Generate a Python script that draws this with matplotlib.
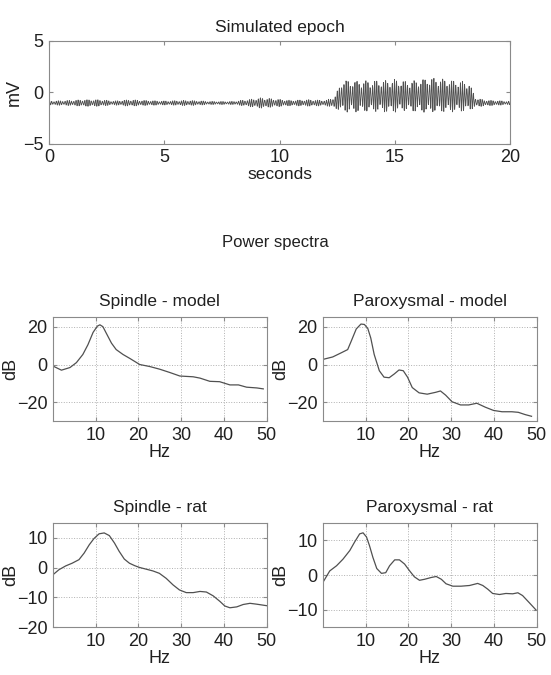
import numpy as np
import matplotlib
matplotlib.use('Agg')
import matplotlib.pyplot as plt

plt.rcParams['font.family'] = ['Liberation Sans', 'DejaVu Sans']

# --- simulated epoch: envelope (seconds, mV) ---
env_t = [0, 1.0, 1.5, 2.2, 2.8, 3.5, 4.0, 5.0, 6.0, 7.0, 8.0, 8.8, 9.2, 9.8, 10.5, 11.3, 12.0, 12.4, 12.7, 14.0, 15.0, 15.5, 16.5, 17.5, 18.2, 18.5, 18.9, 20.0]
env_amp = [0.15, 0.2, 0.25, 0.25, 0.15, 0.25, 0.2, 0.15, 0.2, 0.12, 0.12, 0.3, 0.4, 0.3, 0.2, 0.25, 0.2, 0.45, 1.2, 1.15, 1.25, 1.1, 1.3, 1.2, 1.1, 0.35, 0.22, 0.13]
env_mid = [-1.05, -1.05, -1.05, -1.05, -1.05, -1.05, -1.05, -1.05, -1.05, -1.05, -1.05, -1.05, -1.05, -1.05, -1.05, -1.05, -1.05, -1.0, -0.4, -0.4, -0.35, -0.4, -0.3, -0.35, -0.45, -1.0, -1.05, -1.05]
carrier_hz = [10.5, 12.9]
carrier_w = [1.0, 0.3]
fs = 100

# --- power spectra (Hz, dB) ---
sm_f = [0, 2, 4, 5.5, 7, 8.2, 9.4, 10.4, 11, 11.7, 12.5, 13.7, 14.8, 16.4, 18, 20.3, 22.7, 25, 27.3, 29.7, 32.8, 34.4, 36.7, 39, 41.4, 43.4, 45.3, 47.7, 49.2]
sm_db = [-0.8, -3, -1.6, 1, 5.3, 10.5, 17, 20.3, 21, 20, 16.5, 11.3, 7.9, 5.3, 3.2, 0, -1.1, -2.5, -4.2, -6.1, -6.5, -7.2, -8.9, -9.1, -10.8, -10.8, -12, -12.4, -12.9]

pm_f = [0.2, 2.3, 4.3, 5.8, 6.6, 7.8, 8.9, 9.7, 10.5, 11.2, 12, 13.2, 14.3, 15.5, 16.7, 17.8, 18.8, 19.8, 20.9, 22.5, 24.4, 26.4, 27.5, 28.7, 30.2, 32.2, 34.1, 36, 38, 39.9, 41.9, 44.2, 45.7, 47.3, 48.8]
pm_db = [2.8, 4, 6.2, 7.9, 12.2, 18.8, 21.4, 21.2, 19.1, 14, 5.3, -3.3, -6.7, -7, -5, -2.9, -3.3, -6.7, -12.2, -15, -15.7, -14.7, -14, -16.2, -19.7, -21.4, -21.4, -20.5, -22.6, -24.3, -25, -25, -25.3, -26.5, -27.4]

sr_f = [0, 1.4, 3, 4.5, 6.1, 7.3, 8.5, 9.6, 10.8, 12, 13.2, 14.4, 15.5, 16.7, 17.9, 19.1, 20.2, 21.8, 23.4, 24.9, 26.5, 28.1, 29.6, 31.2, 32.8, 34.4, 35.9, 37.5, 39.1, 40.2, 41.4, 43, 44.5, 46.1, 47.7, 50]
sr_db = [-2.4, -0.7, 0.6, 1.5, 2.7, 4.9, 7.7, 9.8, 11.4, 11.7, 10.8, 8.3, 5.5, 2.9, 1.5, 0.7, 0.1, -0.5, -1.1, -1.9, -3.6, -5.8, -7.5, -8.4, -8.4, -8, -8.2, -9.5, -11.4, -12.9, -13.5, -13.2, -12.4, -12, -12.3, -12.8]

pr_f = [0.2, 1.6, 3.2, 4.7, 6.3, 7.4, 8.6, 9.4, 10.2, 10.9, 11.7, 12.6, 13.7, 14.7, 15.6, 16.8, 17.9, 19.1, 20.3, 21.4, 22.6, 23.8, 25.3, 26.5, 27.7, 28.8, 30.4, 32.3, 34.3, 36.2, 37.4, 38.6, 39.7, 41.3, 42.8, 44.4, 45.6, 46.7, 48.3, 49.8]
pr_db = [-1.7, 1.2, 2.7, 4.6, 7.1, 9.5, 11.9, 12.2, 11, 8.5, 5.1, 1.9, 0.5, 0.7, 2.7, 4.4, 4.4, 3.2, 1.2, -0.5, -1.5, -1.2, -0.7, -0.4, -1.2, -2.5, -3.2, -3.2, -3, -2.4, -3, -4.1, -5.3, -5.6, -5.3, -5.4, -5.1, -5.9, -8, -10]

line_col = '#505050'
spine_col = '#8a8a8a'


def style_axes(ax, size):
    for s in ax.spines.values():
        s.set_color(spine_col)
        s.set_linewidth(0.8)
    ax.tick_params(direction='in', top=True, right=True, length=3,
                   color=spine_col, labelsize=size, labelcolor='#202020', pad=4)


fig = plt.figure(figsize=(5.51, 6.75), dpi=100)

# top: simulated epoch
t = np.arange(0, 20, 1 / fs)
amp = np.interp(t, env_t, env_amp)
mid = np.interp(t, env_t, env_mid)
wave = sum(w * np.sin(2 * np.pi * f * t) for f, w in zip(carrier_hz, carrier_w))
sig = mid + amp * wave

ax0 = fig.add_axes([0.089, 0.787, 0.837, 0.153])
ax0.plot(t, sig, color=line_col, lw=0.6)
ax0.set_xlim(0, 20)
ax0.set_ylim(-5, 5)
ax0.set_xticks([0, 5, 10, 15, 20])
ax0.set_yticks([-5, 0, 5])
style_axes(ax0, 13)
ax0.set_title('Simulated epoch', fontsize=12.5, color='#202020', pad=6)
ax0.set_xlabel('seconds', fontsize=12.5, color='#202020', labelpad=0.5)
ax0.set_ylabel('mV', fontsize=13, color='#202020', labelpad=0)

fig.text(0.5, 0.641, 'Power spectra', ha='center', va='center', fontsize=12, color='#202020')

panels = [
    ([0.096, 0.376, 0.388, 0.154], sm_f, sm_db, 'Spindle - model', (-30, 25), [-20, 0, 20]),
    ([0.586, 0.376, 0.388, 0.154], pm_f, pm_db, 'Paroxysmal - model', (-30, 25), [-20, 0, 20]),
    ([0.096, 0.071, 0.388, 0.154], sr_f, sr_db, 'Spindle - rat', (-20, 15), [-20, -10, 0, 10]),
    ([0.586, 0.071, 0.388, 0.154], pr_f, pr_db, 'Paroxysmal - rat', (-15, 15), [-10, 0, 10]),
]

for pos, f, db, title, ylim, yt in panels:
    ax = fig.add_axes(pos)
    ax.plot(f, db, color=line_col, lw=0.9)
    ax.set_xlim(0, 50)
    ax.set_ylim(*ylim)
    ax.set_xticks([10, 20, 30, 40, 50])
    ax.set_yticks(yt)
    ax.grid(True, linestyle=':', color='#b0b0b0', linewidth=0.7)
    style_axes(ax, 13)
    ax.set_title(title, fontsize=12.5, color='#202020', pad=8)
    ax.set_xlabel('Hz', fontsize=13, color='#202020', labelpad=0)
    ax.set_ylabel('dB', fontsize=13, color='#202020', labelpad=-2)

fig.savefig('out.png', dpi=100)
